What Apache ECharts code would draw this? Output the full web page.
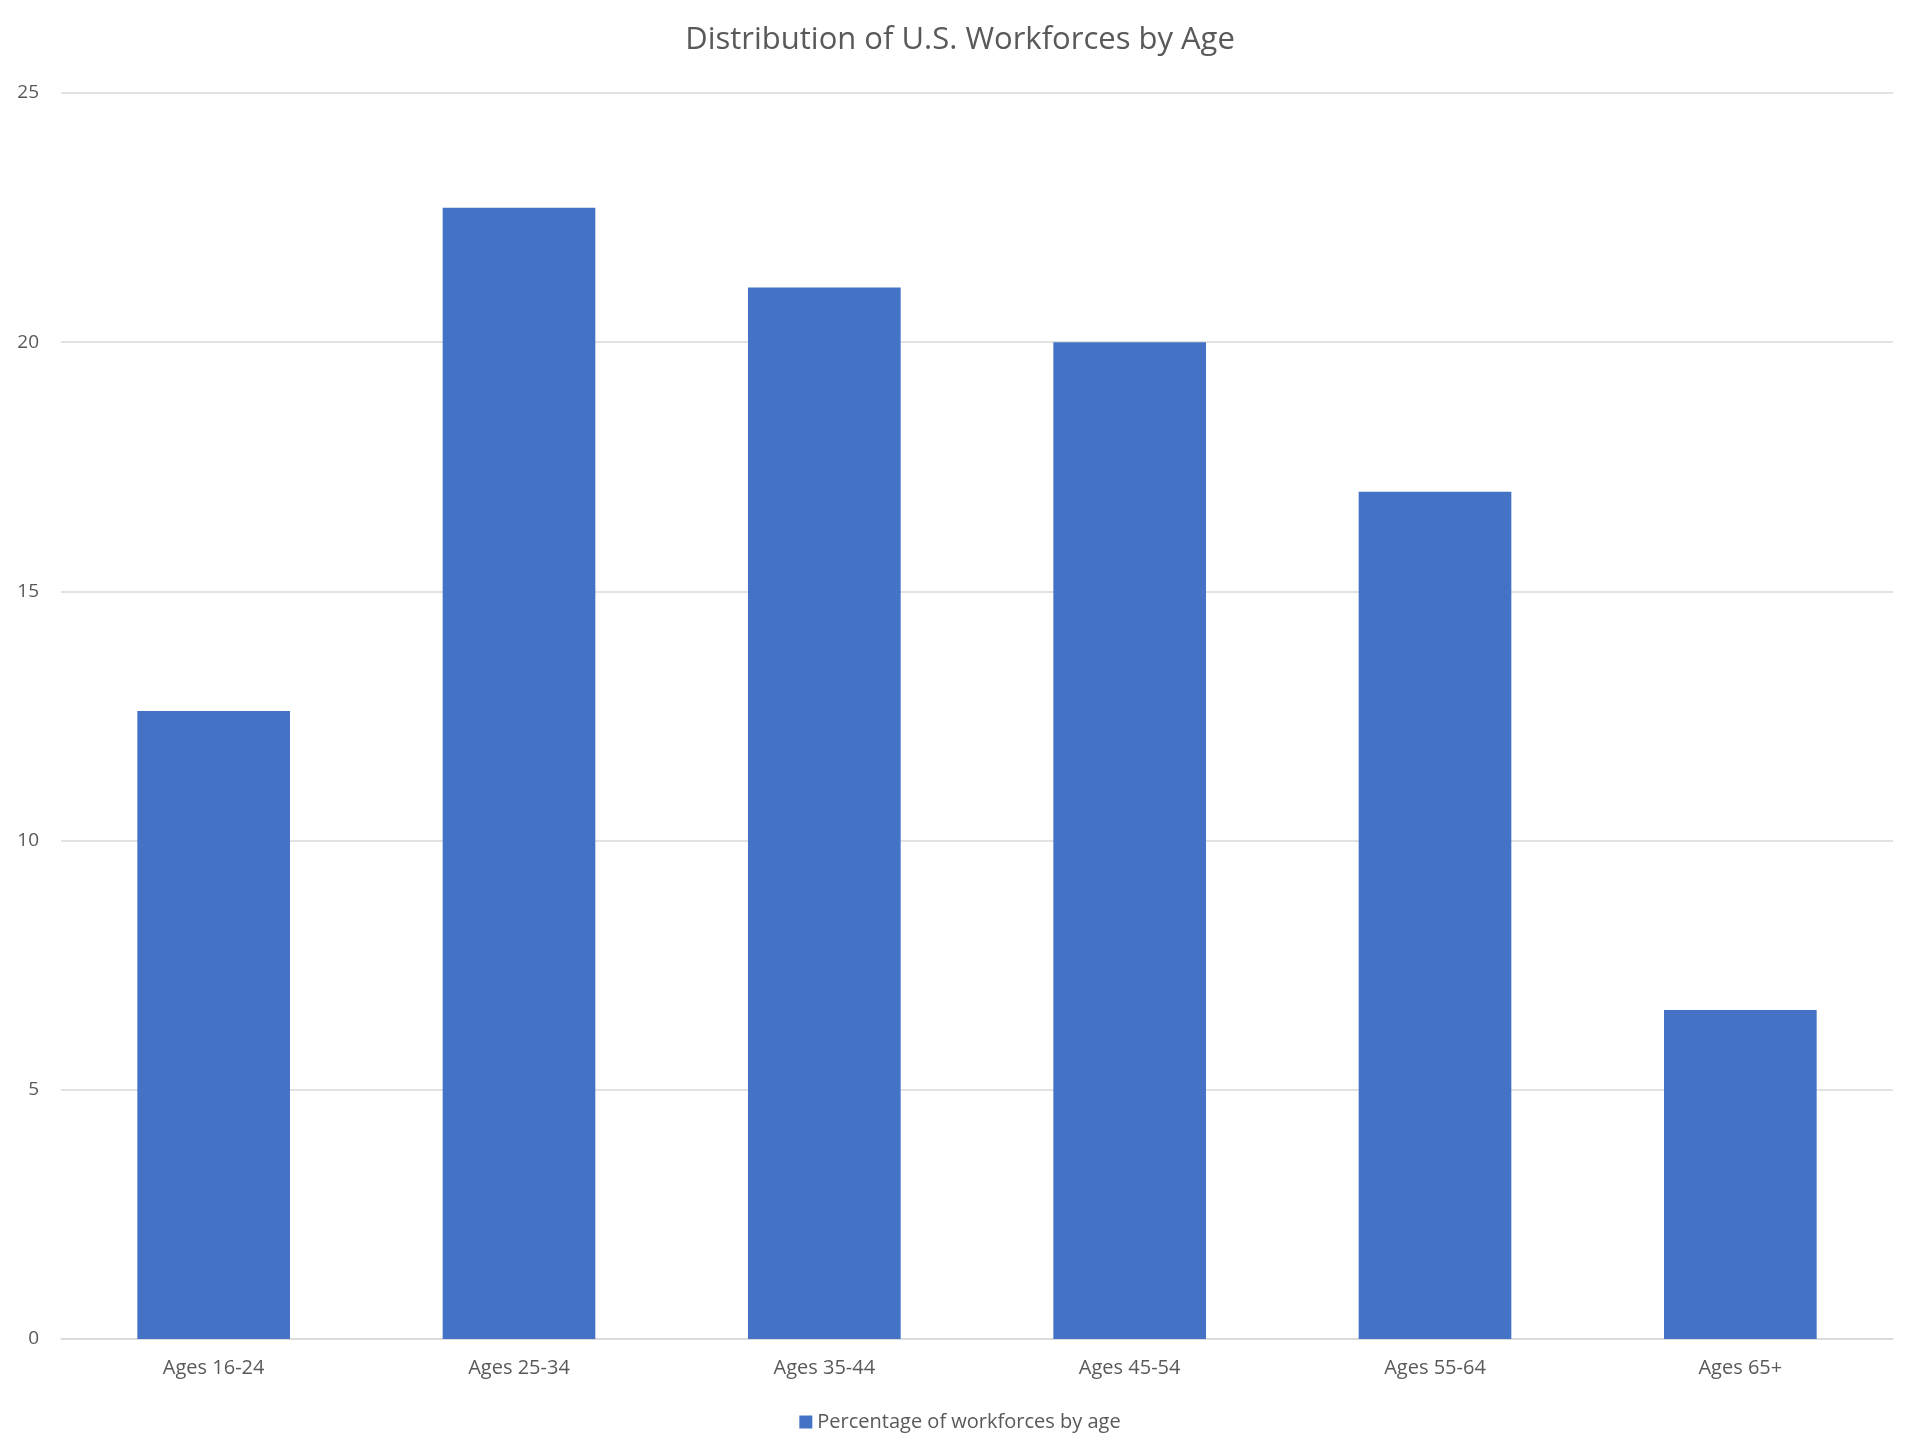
<!DOCTYPE html>
<html>
<head>
<meta charset="utf-8">
<script src="https://cdn.jsdelivr.net/npm/echarts@6/dist/echarts.min.js"></script>
<style>
  html, body { margin: 0; padding: 0; background: #fff; }
  #chart { width: 1920px; height: 1454px; }
</style>
</head>
<body>
<div id="chart"></div>
<script>
var ageGroups = ['Ages 16-24', 'Ages 25-34', 'Ages 35-44', 'Ages 45-54', 'Ages 55-64', 'Ages 65+'];
var workforceShare = [12.6, 22.7, 21.1, 20.0, 17.0, 6.6];
var yTicks = [0, 5, 10, 15, 20, 25];

var chart = echarts.init(document.getElementById('chart'));
var fontName = 'Open Sans';

var option = {
  backgroundColor: '#ffffff',
  animation: false,
  title: {
    text: 'Distribution of U.S. Workforces by Age',
    left: 'center',
    top: 20,
    textStyle: { fontFamily: fontName, fontSize: 31, fontWeight: 'normal', color: '#595959' }
  },
  legend: {
    bottom: 17,
    left: 'center',
    itemWidth: 13,
    itemHeight: 13,
    itemGap: 6,
    icon: 'rect',
    textStyle: { fontFamily: fontName, fontSize: 20, color: '#595959' }
  },
  grid: { left: 61, right: 27, top: 93, bottom: 115, containLabel: false },
  xAxis: {
    type: 'category',
    data: ageGroups,
    axisLine: { lineStyle: { color: '#d9d9d9', width: 1.5 } },
    axisTick: { show: false },
    axisLabel: { fontFamily: fontName, fontSize: 20, color: '#595959', margin: 19 }
  },
  yAxis: {
    type: 'value',
    min: yTicks[0],
    max: yTicks[yTicks.length - 1],
    interval: 5,
    axisLine: { show: false },
    axisTick: { show: false },
    axisLabel: { fontFamily: fontName, fontSize: 19, color: '#595959', margin: 22 },
    splitLine: { lineStyle: { color: '#d9d9d9', width: 1.5 } }
  },
  series: [{
    name: 'Percentage of workforces by age',
    type: 'bar',
    data: workforceShare,
    barCategoryGap: '50%',
    itemStyle: { color: '#4472C4' }
  }]
};

chart.setOption(option);
</script>
</body>
</html>
